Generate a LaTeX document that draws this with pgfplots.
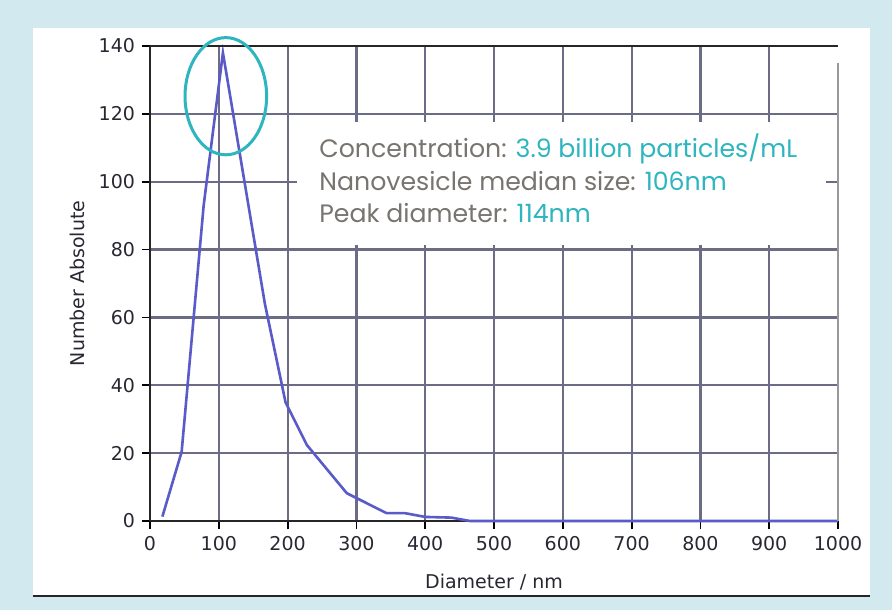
\documentclass[border=0pt]{standalone}
\usepackage{fontspec}
\setmainfont{DejaVu Sans}
\newfontfamily\pop{Poppins}
\usepackage{pgfplots}
\pgfplotsset{compat=1.18}
\definecolor{bgblue}{RGB}{210,234,239}
\definecolor{gridc}{RGB}{108,108,134}
\definecolor{linec}{RGB}{90,90,200}
\definecolor{tealc}{RGB}{46,181,191}
\definecolor{txtgray}{RGB}{120,116,112}
\definecolor{tickc}{RGB}{40,40,50}

\begin{document}
\begin{tikzpicture}
% page frame: light blue surround, white panel, dark rule at the bottom
\fill[bgblue] (-75pt,-44.5pt) rectangle (371pt,260.5pt);
\fill[white] (-58.5pt,-38pt) rectangle (360pt,246.5pt);
\draw[black!85, line width=1.2pt] (-58.5pt,-37.5pt) -- (360pt,-37.5pt);

\begin{axis}[
    at={(0,0)}, anchor=south west,
    scale only axis,
    width=344pt, height=237.5pt,
    xmin=0, xmax=1000,
    ymin=0, ymax=140,
    xtick={0,100,...,1000},
    ytick={0,20,...,140},
    minor xtick={100,200,...,900},
    minor ytick={20,40,...,120},
    xminorgrids, yminorgrids,
    minor tick length=0pt,
    minor grid style={gridc, line width=1.1pt},
    axis x line*=bottom, axis y line*=left,
    axis line style={black!85, line width=1pt},
    tick align=outside,
    major tick length=4pt,
    tick style={black, line width=0.9pt},
    ticklabel style={font=\fontsize{9.5}{11}\selectfont, text=tickc},
    /pgf/number format/assume math mode=true,
    /pgf/number format/1000 sep={},
    xlabel={Diameter / nm},
    ylabel={Number Absolute},
    label style={font=\fontsize{9.5}{11}\selectfont, text=tickc},
    xlabel style={at={(axis description cs:0.5,-0.128)}, anchor=center},
    ylabel style={at={(axis description cs:-0.106,0.5)}, anchor=center},
    clip=false,
]

\addplot[linec, line width=1.3pt] coordinates {
    (18,1.3)(46,20.4)(78,93)(106,138)(167,64)(197,35)(228,22.4)
    (286,8.2)(344,2.3)(371,2.3)(400,1.2)(438,1)(465,0)(1000,0)
};

% top and right frame lines
\draw[black!85, line width=1.2pt] (axis cs:0,140) -- (axis cs:1000,140);
\draw[gray!80, line width=0.8pt] (axis cs:1000,135) -- (axis cs:1000,0);

% annotation box
\fill[white] (axis cs:213.7,81.3) rectangle (axis cs:982.6,117.6);
\node[anchor=base west, inner sep=0pt, text=txtgray, font=\pop\fontsize{12.6}{14}\selectfont]
    at (axis cs:245.6,107) {Concentration: \textcolor{tealc}{3.9 billion particles/mL}};
\node[anchor=base west, inner sep=0pt, text=txtgray, font=\pop\fontsize{12.6}{14}\selectfont]
    at (axis cs:245.6,97.4) {Nanovesicle median size: \textcolor{tealc}{106nm}};
\node[anchor=base west, inner sep=0pt, text=txtgray, font=\pop\fontsize{12.6}{14}\selectfont]
    at (axis cs:245.6,88) {Peak diameter: \textcolor{tealc}{114nm}};

% highlight of the peak
\draw[tealc, line width=1.5pt] (axis cs:110.2,125.2) ellipse [x radius=20.4pt, y radius=29.3pt];
\end{axis}
\end{tikzpicture}
\end{document}
